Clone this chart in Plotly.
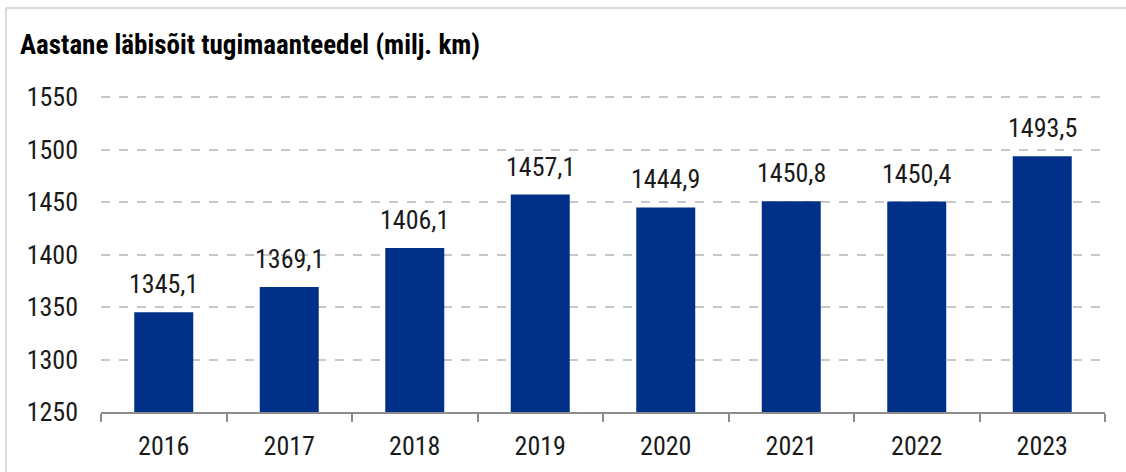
import plotly.graph_objects as go

years = ["2016", "2017", "2018", "2019", "2020", "2021", "2022", "2023"]
values = [1345.1, 1369.1, 1406.1, 1457.1, 1444.9, 1450.8, 1450.4, 1493.5]
y_ticks = [1250, 1300, 1350, 1400, 1450, 1500, 1550]
title = "Aastane läbisõit tugimaanteedel (milj. km)"

FONT = "Roboto Condensed, Liberation Sans Narrow, DejaVu Sans Condensed, Roboto, sans-serif"

W, H = 1126, 472
L, R, T, B = 101, 21, 96, 60
pw, ph = W - L - R, H - T - B

def px_x(x):
    return (x - L) / pw

def px_y(y):
    return (H - B - y) / ph

fig = go.Figure(go.Bar(
    x=years, y=values,
    marker=dict(color="#003087", line=dict(width=0)),
    width=0.47,
))

fig.update_layout(
    width=W, height=H,
    margin=dict(l=L, r=R, t=T, b=B, autoexpand=False),
    paper_bgcolor="white", plot_bgcolor="white",
    font=dict(family=FONT, size=26, color="#1a1a1a"),
    showlegend=False,
)

annotations = [dict(
    text="<b>" + title + "</b>", x=px_x(18), y=px_y(45), xref="paper", yref="paper",
    showarrow=False, xanchor="left", yanchor="middle",
    font=dict(size=27, color="black", family=FONT),
)]
for i, v in enumerate(values):
    annotations.append(dict(
        x=i, y=v, xref="x", yref="y", text=f"{v:.1f}".replace(".", ","),
        showarrow=False, yanchor="bottom", yshift=11,
        font=dict(size=26, color="#1a1a1a", family=FONT),
    ))
fig.layout.annotations = annotations

fig.layout.shapes = [
    dict(type="line", xref="paper", yref="paper",
         x0=px_x(6), x1=px_x(6), y0=px_y(8), y1=px_y(500),
         line=dict(color="#d9d9d9", width=2)),
    dict(type="line", xref="paper", yref="paper",
         x0=px_x(6), x1=px_x(1140), y0=px_y(8), y1=px_y(8),
         line=dict(color="#d9d9d9", width=2)),
]

fig.update_xaxes(
    type="category", automargin=False, range=[-0.5, len(years) - 0.5],
    showline=True, linecolor="#8c8c8c", linewidth=1.5,
    ticks="outside", tickson="boundaries", ticklen=8, tickcolor="#8c8c8c", tickwidth=1.5,
    showgrid=False, tickfont=dict(size=26), ticklabelstandoff=10, tickangle=0,
)
fig.update_yaxes(
    range=[1250, 1551], tickvals=y_ticks, showline=False, automargin=False,
    showgrid=True, gridcolor="#c8c8c8", griddash="dash", gridwidth=1.5,
    zeroline=False, tickfont=dict(size=26), ticks="", ticklabelstandoff=22,
)

fig.write_html("out.html", config={"displayModeBar": False},
               post_script="document.body.style.margin='0';")
